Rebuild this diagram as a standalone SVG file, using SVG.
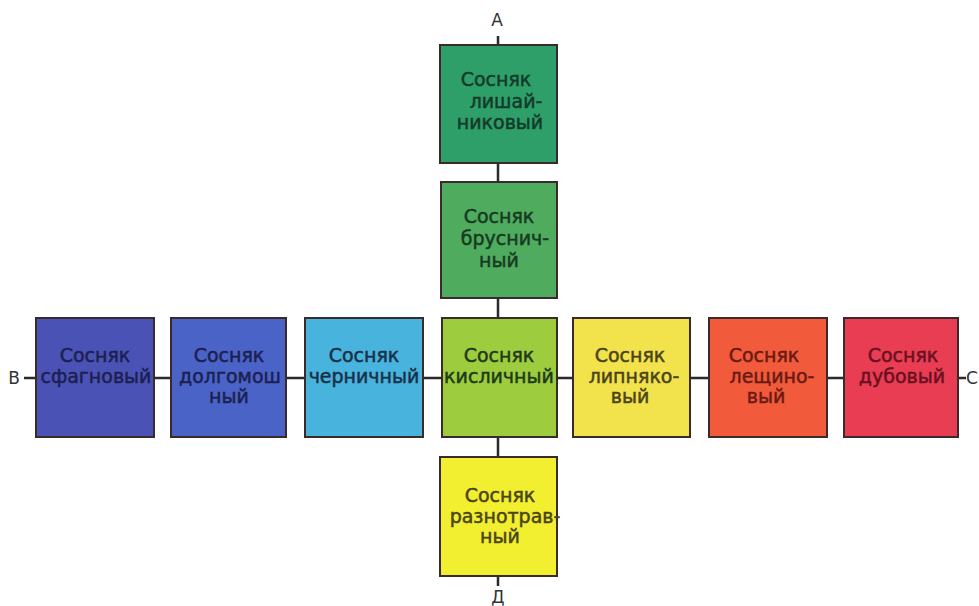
<svg xmlns="http://www.w3.org/2000/svg" width="979" height="606" viewBox="0 0 979 606">
<style>
.box{stroke:#3a2a2a;stroke-width:2}
.t{font-family:"DejaVu Sans","Liberation Sans",sans-serif;font-size:19px;text-anchor:middle;stroke-width:0.5}
.lbl{font-family:"DejaVu Sans","Liberation Sans",sans-serif;font-size:17px;fill:#333;text-anchor:middle}
.c{stroke:#2a2a2a;stroke-width:2.5;fill:none}
</style>
<rect width="979" height="606" fill="#ffffff"/>
<g id="connectors">
<path class="c" d="M498 36V45M498 163V182M498 298V318M498 437V457M498 576V586"/>
<path class="c" d="M24 378H36M154 378H171M286 378H305M423 378H442M557 378H573M690 378H709M827 378H844M958 378H966"/>
</g>
<g id="labels">
<text class="lbl" x="497" y="26">А</text>
<text class="lbl" x="14" y="384">В</text>
<text class="lbl" x="972" y="384">С</text>
<text class="lbl" x="498" y="603">Д</text>
</g>
<g id="lishainikovy">
<rect class="box" x="440" y="45" width="117" height="118" fill="#2e9f69"/>
<text class="t" fill="#143a2a" stroke="#143a2a"><tspan x="496" y="86">Сосняк</tspan><tspan x="506" y="108">лишай-</tspan><tspan x="500" y="129">никовый</tspan></text>
</g>
<g id="brusnichny">
<rect class="box" x="441" y="182" width="116" height="116" fill="#4fab5e"/>
<text class="t" fill="#173a22" stroke="#173a22"><tspan x="499" y="223">Сосняк</tspan><tspan x="505" y="245">бруснич-</tspan><tspan x="499" y="267">ный</tspan></text>
</g>
<g id="sfagnovy">
<rect class="box" x="36" y="318" width="118" height="119" fill="#4a52b5"/>
<text class="t" fill="#1c2050" stroke="#1c2050"><tspan x="95" y="362">Сосняк</tspan><tspan x="96" y="383">сфагновый</tspan></text>
</g>
<g id="dolgomoshny">
<rect class="box" x="171" y="318" width="115" height="119" fill="#4a63c6"/>
<text class="t" fill="#1c2050" stroke="#1c2050"><tspan x="229" y="362">Сосняк</tspan><tspan x="230" y="383">долгомош</tspan><tspan x="229" y="403">ный</tspan></text>
</g>
<g id="chernichny">
<rect class="box" x="305" y="318" width="118" height="119" fill="#48b3dc"/>
<text class="t" fill="#173048" stroke="#173048"><tspan x="364" y="362">Сосняк</tspan><tspan x="364" y="383">черничный</tspan></text>
</g>
<g id="kislichny">
<rect class="box" x="442" y="318" width="115" height="119" fill="#9dcd3e"/>
<text class="t" fill="#1f3a18" stroke="#1f3a18"><tspan x="499" y="362">Сосняк</tspan><tspan x="499" y="383">кисличный</tspan></text>
</g>
<g id="lipnyakovy">
<rect class="box" x="573" y="318" width="117" height="119" fill="#f2e24c"/>
<text class="t" fill="#4a4418" stroke="#4a4418"><tspan x="630" y="362">Сосняк</tspan><tspan x="634" y="383">липняко-</tspan><tspan x="630" y="403">вый</tspan></text>
</g>
<g id="leshchinovy">
<rect class="box" x="709" y="318" width="118" height="119" fill="#f25a3c"/>
<text class="t" fill="#6a1a12" stroke="#6a1a12"><tspan x="764" y="362">Сосняк</tspan><tspan x="772" y="383">лещино-</tspan><tspan x="766" y="403">вый</tspan></text>
</g>
<g id="dubovy">
<rect class="box" x="844" y="318" width="114" height="119" fill="#e83d52"/>
<text class="t" fill="#6a1020" stroke="#6a1020"><tspan x="903" y="362">Сосняк</tspan><tspan x="902" y="383">дубовый</tspan></text>
</g>
<g id="raznotravny">
<rect class="box" x="440" y="457" width="117" height="119" fill="#f2ee30"/>
<text class="t" fill="#4a4418" stroke="#4a4418"><tspan x="500" y="502">Сосняк</tspan><tspan x="505" y="523">разнотрав-</tspan><tspan x="500" y="543">ный</tspan></text>
</g>
</svg>
